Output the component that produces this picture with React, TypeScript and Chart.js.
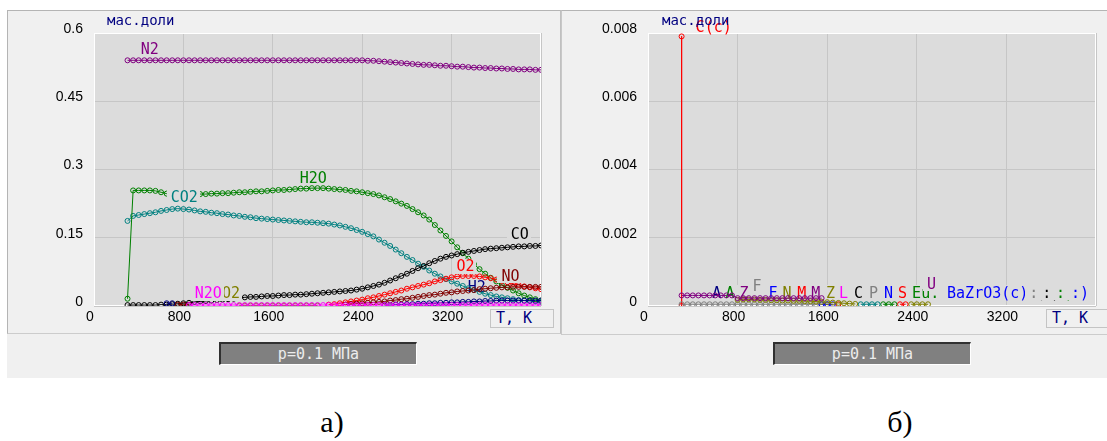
import React, { useEffect, useRef } from 'react';
import { Chart, registerables } from 'chart.js';

Chart.register(...registerables);

// ---------- data ----------
const temps = [300, 350, 400, 450, 500, 550, 600, 650, 700, 750,
  800, 850, 900, 950, 1000, 1050, 1100, 1150, 1200, 1250,
  1300, 1350, 1400, 1450, 1500, 1550, 1600, 1650, 1700, 1750,
  1800, 1850, 1900, 1950, 2000, 2050, 2100, 2150, 2200, 2250,
  2300, 2350, 2400, 2450, 2500, 2550, 2600, 2650, 2700, 2750,
  2800, 2850, 2900, 2950, 3000, 3050, 3100, 3150, 3200, 3250,
  3300, 3350, 3400, 3450, 3500, 3550, 3600, 3650, 3700, 3750,
  3800, 3850, 3900, 3950, 4000];

const xTickLabels = ['0', '800', '1600', '2400', '3200', ''];
const yTickLabelsA = ['0', '0.15', '0.3', '0.45', '0.6'];
const yTickLabelsB = ['0', '0.002', '0.004', '0.006', '0.008'];

const _ = null;

// panel a) — gas species mass fractions
const n2Vals = [
  0.540, 0.540, 0.540, 0.540, 0.540, 0.540, 0.540, 0.540, 0.540, 0.540,
  0.540, 0.540, 0.540, 0.540, 0.540, 0.540, 0.540, 0.540, 0.540, 0.540,
  0.540, 0.540, 0.540, 0.540, 0.540, 0.540, 0.540, 0.540, 0.540, 0.540,
  0.540, 0.540, 0.540, 0.540, 0.540, 0.540, 0.540, 0.540, 0.540, 0.540,
  0.540, 0.540, 0.540, 0.539, 0.539, 0.538, 0.537, 0.536, 0.535, 0.534,
  0.533, 0.532, 0.531, 0.530, 0.530, 0.529, 0.528, 0.528, 0.527, 0.526,
  0.526, 0.525, 0.524, 0.524, 0.523, 0.523, 0.522, 0.522, 0.521, 0.521,
  0.520, 0.520, 0.520, 0.519, 0.519];

const h2oVals = [
  0.016, 0.254, 0.254, 0.254, 0.254, 0.253, 0.250, 0.247, 0.246, 0.246,
  0.246, 0.246, 0.246, 0.246, 0.246, 0.247, 0.247, 0.248, 0.248, 0.249,
  0.250, 0.250, 0.251, 0.252, 0.252, 0.253, 0.254, 0.255, 0.255, 0.256,
  0.257, 0.258, 0.258, 0.259, 0.259, 0.259, 0.258, 0.257, 0.256, 0.255,
  0.253, 0.252, 0.250, 0.248, 0.246, 0.243, 0.239, 0.235, 0.230, 0.225,
  0.220, 0.213, 0.206, 0.199, 0.190, 0.178, 0.166, 0.154, 0.142, 0.129,
  0.116, 0.104, 0.092, 0.081, 0.071, 0.062, 0.054, 0.046, 0.040, 0.034,
  0.028, 0.023, 0.019, 0.015, 0.012];

const co2Vals = [
  0.187, 0.198, 0.200, 0.202, 0.204, 0.206, 0.209, 0.211, 0.213, 0.214,
  0.213, 0.212, 0.210, 0.208, 0.207, 0.205, 0.204, 0.202, 0.201, 0.199,
  0.198, 0.196, 0.195, 0.193, 0.192, 0.191, 0.190, 0.189, 0.188, 0.187,
  0.186, 0.185, 0.184, 0.184, 0.183, 0.182, 0.181, 0.179, 0.177, 0.174,
  0.171, 0.167, 0.163, 0.158, 0.153, 0.146, 0.139, 0.132, 0.124, 0.116,
  0.108, 0.101, 0.093, 0.086, 0.078, 0.071, 0.065, 0.059, 0.054, 0.049,
  0.044, 0.039, 0.035, 0.031, 0.027, 0.024, 0.021, 0.019, 0.017, 0.015,
  0.013, 0.012, 0.011, 0.010, 0.009];

const coVals = [
  0.002, 0.002, 0.002, 0.002, 0.002, 0.002, 0.003, 0.003, 0.004, 0.005,
  0.006, 0.007, 0.009, 0.010, 0.011, 0.012, 0.013, 0.014, 0.015, 0.016,
  0.018, 0.019, 0.020, 0.020, 0.021, 0.022, 0.022, 0.023, 0.024, 0.024,
  0.025, 0.025, 0.026, 0.027, 0.028, 0.029, 0.030, 0.031, 0.032, 0.033,
  0.034, 0.036, 0.038, 0.041, 0.044, 0.047, 0.051, 0.056, 0.061, 0.066,
  0.071, 0.077, 0.083, 0.088, 0.094, 0.099, 0.104, 0.108, 0.111, 0.114,
  0.117, 0.119, 0.121, 0.123, 0.125, 0.126, 0.127, 0.128, 0.129, 0.130,
  0.131, 0.131, 0.132, 0.132, 0.133];

const o2Vals = [
  _, _, _, _, _, _, _, _, _, _,
  _, _, _, _, _, _, _, _, _, _,
  _, _, _, _, _, _, _, _, _, _,
  _, _, _, _, _, _, 0.003, 0.004, 0.006, 0.008,
  0.010, 0.012, 0.014, 0.017, 0.019, 0.022, 0.025, 0.028, 0.031, 0.034,
  0.038, 0.041, 0.044, 0.047, 0.050, 0.054, 0.057, 0.060, 0.063, 0.065,
  0.066, 0.066, 0.066, 0.065, 0.063, 0.061, 0.058, 0.055, 0.052, 0.049,
  0.046, 0.043, 0.041, 0.039, 0.037];

const noVals = [
  _, _, _, _, _, _, _, _, _, 0.003,
  0.003, 0.003, _, _, _, _, _, _, _, _,
  _, _, _, _, _, _, _, _, _, _,
  _, _, _, _, _, _, _, _, _, 0.003,
  0.004, 0.005, 0.006, 0.007, 0.008, 0.009, 0.010, 0.012, 0.013, 0.015,
  0.016, 0.018, 0.020, 0.022, 0.024, 0.025, 0.027, 0.029, 0.030, 0.032,
  0.033, 0.034, 0.035, 0.037, 0.038, 0.039, 0.040, 0.041, 0.041, 0.042,
  0.042, 0.042, 0.042, 0.042, 0.042];

const h2Vals = [
  _, _, _, _, _, _, _, 0.006, 0.006, _,
  _, _, _, _, _, _, _, _, _, _,
  _, _, _, _, _, _, _, _, _, _,
  _, _, _, _, _, _, _, _, _, _,
  _, _, _, _, _, _, 0.002, 0.002, 0.003, 0.003,
  0.004, 0.004, 0.005, 0.005, 0.006, 0.006, 0.007, 0.007, 0.008, 0.008,
  0.009, 0.009, 0.010, 0.010, 0.011, 0.011, 0.012, 0.012, 0.012, 0.012,
  0.012, 0.012, 0.012, 0.012, 0.012];

const n2oVals = [
  _, _, _, _, _, _, _, _, _, _,
  _, 0.002, 0.002, 0.002, 0.002, 0.002, 0.002, 0.002, 0.002, 0.002,
  0.002, 0.002, 0.002, 0.002, 0.002, 0.002, 0.002, 0.002, 0.002, 0.002,
  0.002, 0.002, 0.002, 0.002, 0.002, 0.002, 0.002, 0.002, 0.002, 0.002,
  0.002, 0.002, 0.002, 0.002, 0.002, 0.002, 0.002, 0.002, 0.002, 0.002,
  0.002, 0.002, 0.002, 0.002, 0.002, 0.002, 0.002, 0.002, 0.002, 0.002,
  0.002, 0.002, 0.002, 0.002, 0.002, 0.002, 0.002, 0.002, 0.002, 0.002,
  0.002, 0.002, 0.002, 0.002, 0.002];

const no2Vals = [
  _, _, _, _, _, _, _, _, _, _,
  0.001, 0.001, 0.001, 0.001, 0.001, 0.001, 0.001, 0.001, 0.001, 0.001,
  0.001, 0.001, 0.001, 0.001, 0.001];

// panel б) — minor (condensed) species
const cTemps = [300, 300];
const cVals = [0.0079, 0];
const rPurple = [0.00031, 0.00031, 0.00031, 0.00031, 0.00031, 0.00031, 0.00031, 0.00031, 0.00031, 0.00031,
  0.00023, 0.00023, 0.00023, 0.00023, 0.00023, 0.00023, 0.00023, 0.00023, 0.00023, 0.00023,
  0.00023, 0.00023, 0.00023, 0.00023, 0.00023, 0.00023];
const rGray = [0.00005, 0.00005, 0.00005, 0.00005, 0.00005, 0.00005, 0.00005, 0.00005, 0.00005, 0.00005,
  0.00005, 0.00005, 0.00005, 0.00005, 0.00005, 0.00005, 0.00005, 0.00005, 0.00005, 0.00005,
  0.00005, 0.00005, 0.00005, 0.00005, 0.00005, 0.00005, 0.00005];
const rOlive = [0.00018, 0.00019, 0.00019, 0.00019, 0.00018, 0.00018, 0.00017, 0.00017, 0.00016, 0.00016,
  0.00015, 0.00015, 0.00014, 0.00014, 0.00013, 0.00012, 0.00011, 0.00010, 0.00009, 0.00008,
  0.00007, 0.00006];
const rBlue = [0.00005, 0.00005, 0.00005];
const rRed = [0.00005];
const rTeal = [0.00005, 0.00005, 0.00005, 0.00005];
const rGreen = [0.00005, 0.00005, 0.00005];
const rRed2 = [0.00005, 0.00005];
const rOlive2 = [0.00005, 0.00005, 0.00005, 0.00005];

type Lbl = { text: string; color: string; t: number; v: number; bg?: boolean; under?: boolean };

const labelsA: Lbl[] = [
  { text: 'N2', color: '#800080', t: 418, v: 0.567 },
  { text: 'NO2', color: '#808000', t: 1064, v: 0.029 },
  { text: 'N2O', color: '#ff00ff', t: 901, v: 0.029 },
  { text: 'CO2', color: '#008080', t: 686, v: 0.240 },
  { text: 'H2O', color: '#008000', t: 1841, v: 0.2835 },
  { text: 'CO', color: '#000000', t: 3729, v: 0.160 },
  { text: 'O2', color: '#ff0000', t: 3243, v: 0.088 },
  { text: 'H2', color: '#000080', t: 3344, v: 0.042, under: true },
  { text: 'NO', color: '#800000', t: 3646, v: 0.068 },
];

const rowV = 0.00041;
const labelsB: Lbl[] = [
  { text: 'C(c)', color: '#ff0000', t: 425, v: 0.00818, bg: false, under: true },
  { text: 'A', color: '#000080', t: 574, v: rowV, under: true },
  { text: 'A', color: '#008000', t: 692, v: rowV, under: true },
  { text: 'Z', color: '#800080', t: 817, v: rowV, under: true },
  { text: 'F', color: '#808080', t: 932, v: 0.00059, under: true },
  { text: 'F', color: '#0000ff', t: 1075, v: rowV, under: true },
  { text: 'N', color: '#808000', t: 1200, v: rowV, under: true },
  { text: 'M', color: '#ff0000', t: 1332, v: rowV, under: true },
  { text: 'M', color: '#800080', t: 1457, v: rowV, under: true },
  { text: 'Z', color: '#808000', t: 1590, v: rowV, under: true },
  { text: 'L', color: '#ff00ff', t: 1706, v: rowV, under: true },
  { text: 'C', color: '#000000', t: 1840, v: rowV, under: true },
  { text: 'P', color: '#808080', t: 1974, v: rowV, under: true },
  { text: 'N', color: '#0000ff', t: 2108, v: rowV, under: true },
  { text: 'S', color: '#ff0000', t: 2233, v: rowV, under: true },
  { text: 'Eu.', color: '#008000', t: 2358, v: rowV, under: true },
  { text: 'U', color: '#800080', t: 2491, v: 0.00067, under: true },
  { text: 'BaZrO3(c)', color: '#0000ff', t: 2670, v: rowV, under: true },
  { text: ':)', color: '#808080', t: 3403, v: rowV, under: true },
  { text: ':)', color: '#000000', t: 3519, v: rowV, under: true },
  { text: ':)', color: '#008000', t: 3643, v: rowV, under: true },
  { text: ':)', color: '#0000ff', t: 3777, v: rowV, under: true },
];

// ---------- styling ----------
const PLOT_BG = '#dcdcdc';
const GRID = '#c6c6c6';
const TICK_FONT = '"Liberation Sans Narrow", "Liberation Sans", Arial, sans-serif';
const MONO = '"DejaVu Sans Mono", monospace';

function seriesFrom(start: number, vals: (number | null)[]) {
  const i0 = temps.indexOf(start);
  return vals.map((v, k) => ({ x: temps[i0 + k], y: v }));
}

function ds(label: string, color: string, data: any[]) {
  return {
    label,
    data,
    borderColor: color,
    pointBorderColor: color,
    pointBackgroundColor: 'rgba(0,0,0,0)',
    pointRadius: 2.5,
    pointBorderWidth: 1,
    borderWidth: 1,
    spanGaps: false,
    fill: false,
    tension: 0,
  };
}

function drawLabels(chart: any, items: Lbl[]) {
  const { ctx } = chart;
  const xs = chart.scales.x;
  const ys = chart.scales.y;
  ctx.save();
  ctx.font = '15px ' + MONO;
  ctx.textBaseline = 'alphabetic';
  ctx.textAlign = 'left';
  for (const l of items) {
    const x0 = xs.getPixelForValue(l.t);
    const yc = ys.getPixelForValue(l.v);
    const w = ctx.measureText(l.text).width;
    if (l.bg !== false) {
      ctx.fillStyle = PLOT_BG;
      ctx.fillRect(Math.round(x0 - 4), Math.round(yc - 7), Math.round(w + 6), 15);
    }
    ctx.fillStyle = l.color;
    ctx.fillText(l.text, x0, yc + 5.5);
  }
  ctx.restore();
}

function makeConfig(datasets: any[], yMax: number, yStep: number, yLabels: string[], labels: Lbl[], padRight: number) {
  return {
    type: 'line',
    data: { datasets },
    options: {
      animation: false,
      responsive: false,
      devicePixelRatio: 1,
      events: [],
      layout: { padding: { left: 0, top: 23, right: padRight, bottom: 0 } },
      plugins: { legend: { display: false }, tooltip: { enabled: false } },
      scales: {
        x: {
          type: 'linear',
          min: 0,
          max: 4000,
          ticks: {
            stepSize: 800,
            autoSkip: false,
            maxRotation: 0,
            labelOffset: -4,
            padding: 3,
            color: '#000000',
            font: { family: TICK_FONT, size: 14 },
            callback: (_v: any, i: number) => xTickLabels[i] ?? '',
          },
          grid: { color: GRID, lineWidth: 1, drawTicks: false },
          border: { display: false },
          afterFit: (s: any) => { s.height = 27; },
        },
        y: {
          type: 'linear',
          min: 0,
          max: yMax,
          ticks: {
            stepSize: yStep,
            labelOffset: -4,
            padding: 11,
            color: '#000000',
            font: { family: TICK_FONT, size: 14 },
            callback: (_v: any, i: number) => yLabels[i] ?? '',
          },
          grid: { color: GRID, lineWidth: 1, drawTicks: false },
          border: { display: false },
          afterFit: (s: any) => { s.width = 87; },
        },
      },
    },
    plugins: [{
      id: 'plotFrame',
      beforeDraw(chart: any) {
        const { ctx, chartArea: a } = chart;
        ctx.save();
        ctx.fillStyle = PLOT_BG;
        ctx.fillRect(a.left, a.top, a.right - a.left, a.bottom - a.top);
        ctx.restore();
      },
      beforeDatasetsDraw(chart: any) {
        const { ctx, chartArea: a } = chart;
        ctx.save();
        ctx.strokeStyle = '#ffffff';
        ctx.lineWidth = 1;
        ctx.strokeRect(a.left + 0.5, a.top + 0.5, a.right - a.left - 1, a.bottom - a.top - 1);
        ctx.restore();
        drawLabels(chart, labels.filter(l => l.under));
      },
      afterDatasetsDraw(chart: any) {
        drawLabels(chart, labels.filter(l => !l.under));
      },
    }],
  };
}

function ChartCanvas({ left, width, config }: { left: number; width: number; config: () => any }) {
  const ref = useRef<HTMLCanvasElement | null>(null);
  useEffect(() => {
    if (!ref.current) return;
    const chart = new Chart(ref.current, config() as any);
    return () => chart.destroy();
  }, []);
  return (
    <canvas ref={ref} width={width} height={323}
      style={{ position: 'absolute', left, top: 10, width, height: 323 }} />
  );
}

const leftConfig = () => makeConfig([
  ds('N2O', '#ff00ff', seriesFrom(300, n2oVals)),
  ds('NO2', '#808000', seriesFrom(800, no2Vals)),
  ds('H2', '#000080', seriesFrom(300, h2Vals)),
  ds('NO', '#800000', seriesFrom(300, noVals)),
  ds('O2', '#ff0000', seriesFrom(300, o2Vals)),
  ds('CO', '#000000', seriesFrom(300, coVals)),
  ds('H2O', '#008000', seriesFrom(300, h2oVals)),
  ds('CO2', '#008080', seriesFrom(300, co2Vals)),
  ds('N2', '#800080', seriesFrom(300, n2Vals)),
], 0.6, 0.15, yTickLabelsA, labelsA, 20);

const rightConfig = () => makeConfig([
  ds('purple', '#800080', seriesFrom(300, rPurple)),
  ds('olive', '#808000', seriesFrom(800, rOlive)),
  ds('blue', '#0000ff', seriesFrom(1550, rBlue)),
  ds('red', '#ff0000', seriesFrom(1700, rRed)),
  ds('teal', '#008080', seriesFrom(1900, rTeal)),
  ds('green', '#008000', seriesFrom(2100, rGreen)),
  ds('red2', '#ff0000', seriesFrom(2250, rRed2)),
  ds('olive2', '#808000', seriesFrom(2350, rOlive2)),
  ds('gray', '#808080', seriesFrom(300, rGray)),
  ds('C(c)', '#ff0000', cTemps.map((t, k) => ({ x: t, y: cVals[k] }))),
], 0.008, 0.002, yTickLabelsB, labelsB, 11);

const monoText = (size: number) => ({ fontFamily: MONO, fontSize: size });

export default function App() {
  const pBox = (left: number) => (
    <div style={{
      position: 'absolute', left, top: 342, width: 198, height: 23, boxSizing: 'border-box',
      background: '#808080', borderTop: '2px solid #303030', borderLeft: '2px solid #303030',
      borderRight: '1px solid #ffffff', borderBottom: '1px solid #ffffff',
      color: '#ececec', textAlign: 'center', lineHeight: '20px', ...monoText(15),
    }}>p=0.1 МПа</div>
  );
  const tkBox = (left: number) => (
    <div style={{
      position: 'absolute', left, top: 309, width: 64, height: 19, boxSizing: 'border-box',
      border: '1px solid #c4c4c4', background: '#f0f0f0', color: '#000080',
      paddingLeft: 5, lineHeight: '17px', whiteSpace: 'pre', ...monoText(15),
    }}>T, K</div>
  );
  const yTitle = (left: number) => (
    <div style={{
      position: 'absolute', left, top: 12, color: '#000080', lineHeight: '16px',
      whiteSpace: 'pre', ...monoText(14),
    }}>мас.доли</div>
  );
  return (
    <div style={{ position: 'absolute', left: 0, top: 0, width: 1107, height: 441, background: '#ffffff', overflow: 'hidden' }}>
      <div style={{ position: 'absolute', left: 7, top: 10, width: 1100, height: 368, background: '#f0f0f0' }} />
      <div style={{
        position: 'absolute', left: 7, top: 10, width: 552, height: 322,
        borderTop: '1px solid #b4b4b4', borderLeft: '1px solid #b4b4b4',
        borderRight: '1px solid #c0c0c0', borderBottom: '1px solid #cccccc',
      }} />
      <div style={{
        position: 'absolute', left: 561, top: 10, width: 560, height: 323,
        borderTop: '1px solid #b4b4b4', borderLeft: '1px solid #c8c8c8', borderBottom: '1px solid #cccccc',
      }} />
      <ChartCanvas left={7} width={554} config={leftConfig} />
      <ChartCanvas left={561} width={546} config={rightConfig} />
      {yTitle(107)}
      {yTitle(662)}
      {tkBox(490)}
      {tkBox(1046)}
      {pBox(219)}
      {pBox(773)}
      <div style={{
        position: 'absolute', left: 282, top: 402, width: 100, textAlign: 'center',
        fontFamily: '"Liberation Serif", serif', fontSize: 30, lineHeight: '40px', color: '#000',
      }}>а)</div>
      <div style={{
        position: 'absolute', left: 850, top: 402, width: 100, textAlign: 'center',
        fontFamily: '"Liberation Serif", serif', fontSize: 30, lineHeight: '40px', color: '#000',
      }}>б)</div>
    </div>
  );
}
